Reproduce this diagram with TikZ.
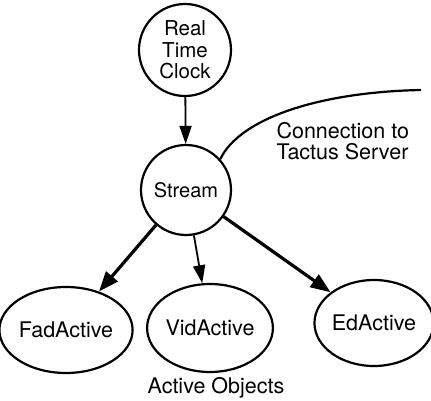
\documentclass[tikz,border=0pt]{standalone}
\usepackage{fontspec}
\setmainfont{TeX Gyre Heros}
\usetikzlibrary{arrows.meta,shapes.geometric}
\begin{document}
\begin{tikzpicture}[x=1pt,y=-1pt,
  lbl/.style={font=\fontsize{21.5}{21.5}\selectfont},
  circ/.style={draw,circle,line width=2.2pt,inner sep=0pt,minimum size=#1,lbl,align=center},
  ell/.style={draw,ellipse,line width=2.2pt,inner sep=0pt,minimum width=112pt,minimum height=86pt,lbl},
  thin/.style={line width=1.8pt,-{Triangle[length=18pt,width=12pt]}},
  thick/.style={line width=3.2pt,-{Triangle[length=20pt,width=15pt]}}]
\useasboundingbox (0,0) rectangle (431,401);
\node[circ=92pt,font=\fontsize{20.5}{21.5}\selectfont] (rtc) at (185,50) {Real\\Time\\Clock};
\node[circ=90pt,font=\fontsize{20}{21}\selectfont] (stream) at (186,190) {Stream};
\node[ell] (fad) at (66,330) {FadActive};
\node[ell,minimum height=88pt] (vid) at (210,328) {VidActive};
\node[ell] (ed) at (374,323) {EdActive};
\coordinate (conn) at (421,90);
\draw[line width=2.2pt] (stream.42) .. controls (240,118) and (320,92) .. (conn);
\node[lbl,align=left,anchor=west] (ctext) at (273,141) {Connection to\\Tactus Server};
\node[lbl] (aobj) at (216,388) {Active Objects};
\draw[thin] (rtc) -- (stream);
\draw[thick] (stream) -- (fad);
\draw[thin] (stream) -- (vid);
\draw[thick] (stream) -- (ed);
\end{tikzpicture}
\end{document}
